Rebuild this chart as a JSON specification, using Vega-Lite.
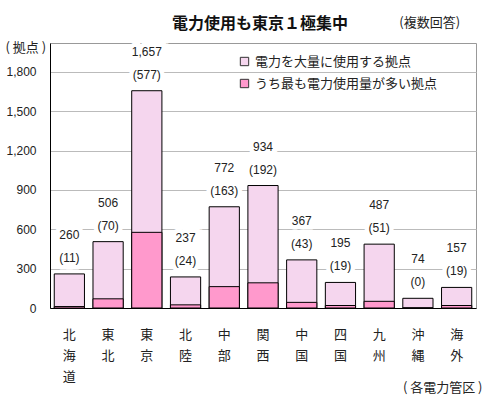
{
  "$schema": "https://vega.github.io/schema/vega-lite/v6.json",
  "width": 426,
  "height": 265,
  "autosize": "none",
  "padding": {"left": 50, "top": 43, "right": 11, "bottom": 89},
  "background": "white",
  "config": {"view": {"stroke": "#999999", "strokeWidth": 1}, "font": "Noto Sans CJK JP"},
  "title": {"text": "電力使用も東京１極集中", "fontSize": 16, "fontWeight": "bold", "font": "Noto Sans CJK JP", "color": "#111111", "anchor": "middle", "frame": "group", "dx": -3, "offset": -15},
  "data": {"values": [
    {"region": "北海道", "total": 260, "top": 11},
    {"region": "東北", "total": 506, "top": 70},
    {"region": "東京", "total": 1657, "top": 577},
    {"region": "北陸", "total": 237, "top": 24},
    {"region": "中部", "total": 772, "top": 163},
    {"region": "関西", "total": 934, "top": 192},
    {"region": "中国", "total": 367, "top": 43},
    {"region": "四国", "total": 195, "top": 19},
    {"region": "九州", "total": 487, "top": 51},
    {"region": "沖縄", "total": 74, "top": 0},
    {"region": "海外", "total": 157, "top": 19}
  ]},
  "encoding": {
    "x": {
      "field": "region", "type": "nominal", "sort": null,
      "scale": {"paddingInner": 0.22, "paddingOuter": 0.11},
      "axis": {
        "labelAngle": 0, "labelExpr": "split(datum.label, '')", "labelLineHeight": 21,
        "labelFontSize": 13, "labelPadding": 20, "labelColor": "#222222", "labelFont": "Noto Sans CJK JP",
        "ticks": false, "domainColor": "#000000", "grid": false,
        "title": "( 各電力管区 )", "titleX": 432, "titleY": 79, "titleAlign": "right", "titleBaseline": "middle",
        "titleFontWeight": "normal", "titleFontSize": 13, "titleColor": "#222222", "titleFont": "Noto Sans CJK JP"
      }
    }
  },
  "layer": [
    {
      "transform": [{"fold": ["total", "top"], "as": ["series", "value"]}],
      "mark": {"type": "bar", "stroke": "#000000", "strokeWidth": 1},
      "encoding": {
        "y": {
          "field": "value", "type": "quantitative", "stack": null,
          "scale": {"domain": [0, 2021], "nice": false},
          "axis": {
            "values": [0, 300, 600, 900, 1200, 1500, 1800], "labelExpr": "format(datum.value, ',')",
            "labelFont": "Liberation Sans", "labelFontSize": 12, "labelColor": "#222222", "labelPadding": 14,
            "ticks": false, "domainColor": "#000000", "gridColor": "#bbbbbb",
            "title": "( 拠点 )", "titleAngle": 0, "titleX": -45, "titleY": 4, "titleAlign": "left", "titleBaseline": "middle",
            "titleFontWeight": "normal", "titleFontSize": 13, "titleColor": "#222222", "titleFont": "Noto Sans CJK JP"
          }
        },
        "color": {
          "field": "series", "type": "nominal",
          "scale": {"domain": ["total", "top"], "range": ["#F5D6EE", "#FF99CC"]},
          "legend": {
            "orient": "none", "legendX": 188, "legendY": 12, "title": null,
            "labelExpr": "datum.label == 'total' ? '電力を大量に使用する拠点' : 'うち最も電力使用量が多い拠点'",
            "labelLimit": 300,
            "symbolType": "square", "symbolSize": 70, "symbolStrokeColor": "#333333", "symbolStrokeWidth": 1,
            "labelFontSize": 13, "labelFont": "Noto Sans CJK JP", "labelColor": "#222222", "labelOffset": 4, "rowPadding": 8
          }
        }
      }
    },
    {
      "mark": {"type": "text", "dy": -39, "baseline": "middle", "font": "Liberation Sans", "fontSize": 12, "fill": "white", "stroke": "white", "strokeWidth": 9},
      "encoding": {"y": {"field": "total", "type": "quantitative"}, "text": {"field": "total", "format": ","}}
    },
    {
      "transform": [{"calculate": "'(' + datum.top + ')'", "as": "topLabel"}],
      "mark": {"type": "text", "dy": -16, "baseline": "middle", "font": "Liberation Sans", "fontSize": 12, "fill": "white", "stroke": "white", "strokeWidth": 9},
      "encoding": {"y": {"field": "total", "type": "quantitative"}, "text": {"field": "topLabel"}}
    },
    {
      "mark": {"type": "text", "dy": -39, "baseline": "middle", "font": "Liberation Sans", "fontSize": 12, "color": "#222222"},
      "encoding": {"y": {"field": "total", "type": "quantitative"}, "text": {"field": "total", "format": ","}}
    },
    {
      "transform": [{"calculate": "'(' + datum.top + ')'", "as": "topLabel"}],
      "mark": {"type": "text", "dy": -16, "baseline": "middle", "font": "Liberation Sans", "fontSize": 12, "color": "#222222"},
      "encoding": {"y": {"field": "total", "type": "quantitative"}, "text": {"field": "topLabel"}}
    },
    {
      "data": {"values": [{"note": "(複数回答)"}]},
      "mark": {"type": "text", "dx": -27, "baseline": "middle", "font": "Noto Sans CJK JP", "fontSize": 13, "color": "#222222"},
      "encoding": {"x": {"datum": "海外"}, "y": {"datum": 2170}, "text": {"field": "note"}}
    }
  ]
}
